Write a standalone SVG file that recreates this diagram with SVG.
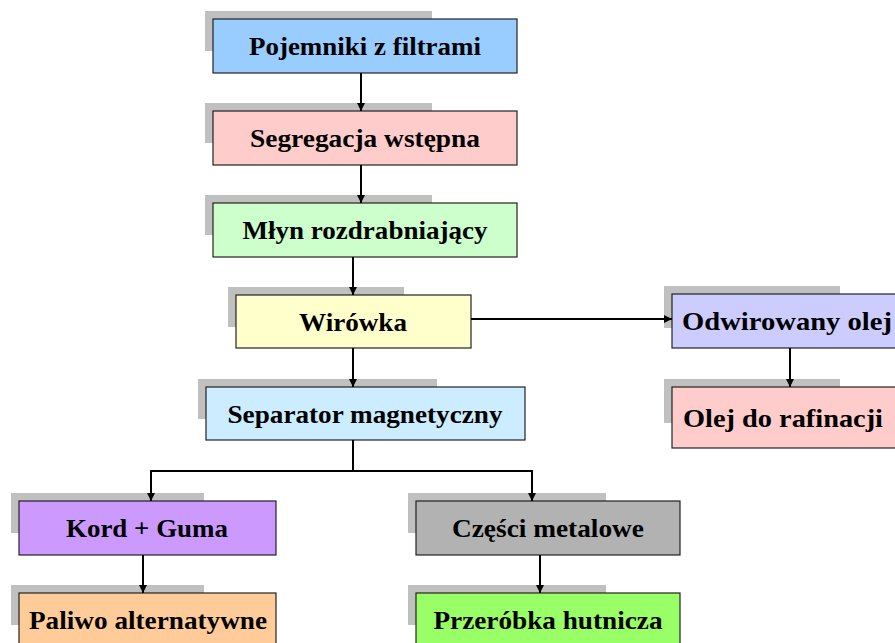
<svg xmlns="http://www.w3.org/2000/svg" width="895" height="643" viewBox="0 0 895 643">
<style>
.sh{fill:#C0C0C0}
.bx{stroke:#222;stroke-width:1.2}
.t{font-family:"Liberation Serif","Times New Roman",serif;font-weight:bold;font-size:25px;fill:#000;text-anchor:middle}
.c{fill:none;stroke:#000;stroke-width:2}
</style>
<defs>
<marker id="ah" markerWidth="8" markerHeight="8" refX="8" refY="4" orient="auto" markerUnits="userSpaceOnUse">
<path d="M0,0 L8,4 L0,8 Z" fill="#000"/>
</marker>
</defs>
<rect width="895" height="643" fill="#fff"/>
<g id="n1"><rect class="sh" x="205" y="11" width="227" height="40"/><rect class="bx" x="213" y="19" width="304" height="54" fill="#99CCFF"/><text class="t" x="365" y="55" textLength="232" lengthAdjust="spacingAndGlyphs">Pojemniki z filtrami</text></g>
<g id="n2"><rect class="sh" x="205" y="103" width="227" height="40"/><rect class="bx" x="213" y="111" width="304" height="54" fill="#FFCCCC"/><text class="t" x="365" y="147" textLength="230" lengthAdjust="spacingAndGlyphs">Segregacja wstępna</text></g>
<g id="n3"><rect class="sh" x="205" y="195" width="227" height="40"/><rect class="bx" x="213" y="203" width="304" height="54" fill="#CCFFCC"/><text class="t" x="365" y="239" textLength="245" lengthAdjust="spacingAndGlyphs">Młyn rozdrabniający</text></g>
<g id="n4"><rect class="sh" x="228" y="287" width="176" height="40"/><rect class="bx" x="236" y="295" width="235" height="53" fill="#FFFFCC"/><text class="t" x="353" y="331" textLength="108" lengthAdjust="spacingAndGlyphs">Wirówka</text></g>
<g id="n5"><rect class="sh" x="198" y="379" width="239" height="40"/><rect class="bx" x="206" y="387" width="319" height="53" fill="#CCECFF"/><text class="t" x="365" y="423" textLength="275" lengthAdjust="spacingAndGlyphs">Separator magnetyczny</text></g>
<g id="n6"><rect class="sh" x="664" y="286" width="176" height="42"/><rect class="bx" x="672" y="294" width="234" height="54" fill="#CCCCFF"/><text class="t" x="787" y="330" textLength="210" lengthAdjust="spacingAndGlyphs">Odwirowany olej</text></g>
<g id="n7"><rect class="sh" x="664" y="379" width="176" height="44"/><rect class="bx" x="672" y="387" width="234" height="61" fill="#FFCCCC"/><text class="t" x="783" y="427" textLength="200" lengthAdjust="spacingAndGlyphs">Olej do rafinacji</text></g>
<g id="n8"><rect class="sh" x="11" y="493" width="193" height="40"/><rect class="bx" x="19" y="501" width="257" height="54" fill="#CC99FF"/><text class="t" x="147" y="537" textLength="162" lengthAdjust="spacingAndGlyphs">Kord + Guma</text></g>
<g id="n9"><rect class="sh" x="408" y="493" width="198" height="40"/><rect class="bx" x="416" y="501" width="264" height="54" fill="#B2B2B2"/><text class="t" x="548" y="537" textLength="192" lengthAdjust="spacingAndGlyphs">Części metalowe</text></g>
<g id="n10"><rect class="sh" x="11" y="585" width="193" height="40"/><rect class="bx" x="19" y="593" width="257" height="54" fill="#FFCC99"/><text class="t" x="148" y="629" textLength="238" lengthAdjust="spacingAndGlyphs">Paliwo alternatywne</text></g>
<g id="n11"><rect class="sh" x="408" y="585" width="198" height="40"/><rect class="bx" x="416" y="593" width="264" height="54" fill="#99FF66"/><text class="t" x="548" y="629" textLength="229" lengthAdjust="spacingAndGlyphs">Przeróbka hutnicza</text></g>
<g id="connectors">
<path class="c" d="M361,73 V111" marker-end="url(#ah)"/>
<path class="c" d="M361,165 V203" marker-end="url(#ah)"/>
<path class="c" d="M353,257 V295" marker-end="url(#ah)"/>
<path class="c" d="M353,348 V387" marker-end="url(#ah)"/>
<path class="c" d="M471,319 H672" marker-end="url(#ah)"/>
<path class="c" d="M790,348 V387" marker-end="url(#ah)"/>
<path class="c" d="M353,440 V471 H151 V501" marker-end="url(#ah)"/>
<path class="c" d="M353,471 H532 V501" marker-end="url(#ah)"/>
<path class="c" d="M143,555 V593" marker-end="url(#ah)"/>
<path class="c" d="M540,555 V593" marker-end="url(#ah)"/>
</g>
</svg>
